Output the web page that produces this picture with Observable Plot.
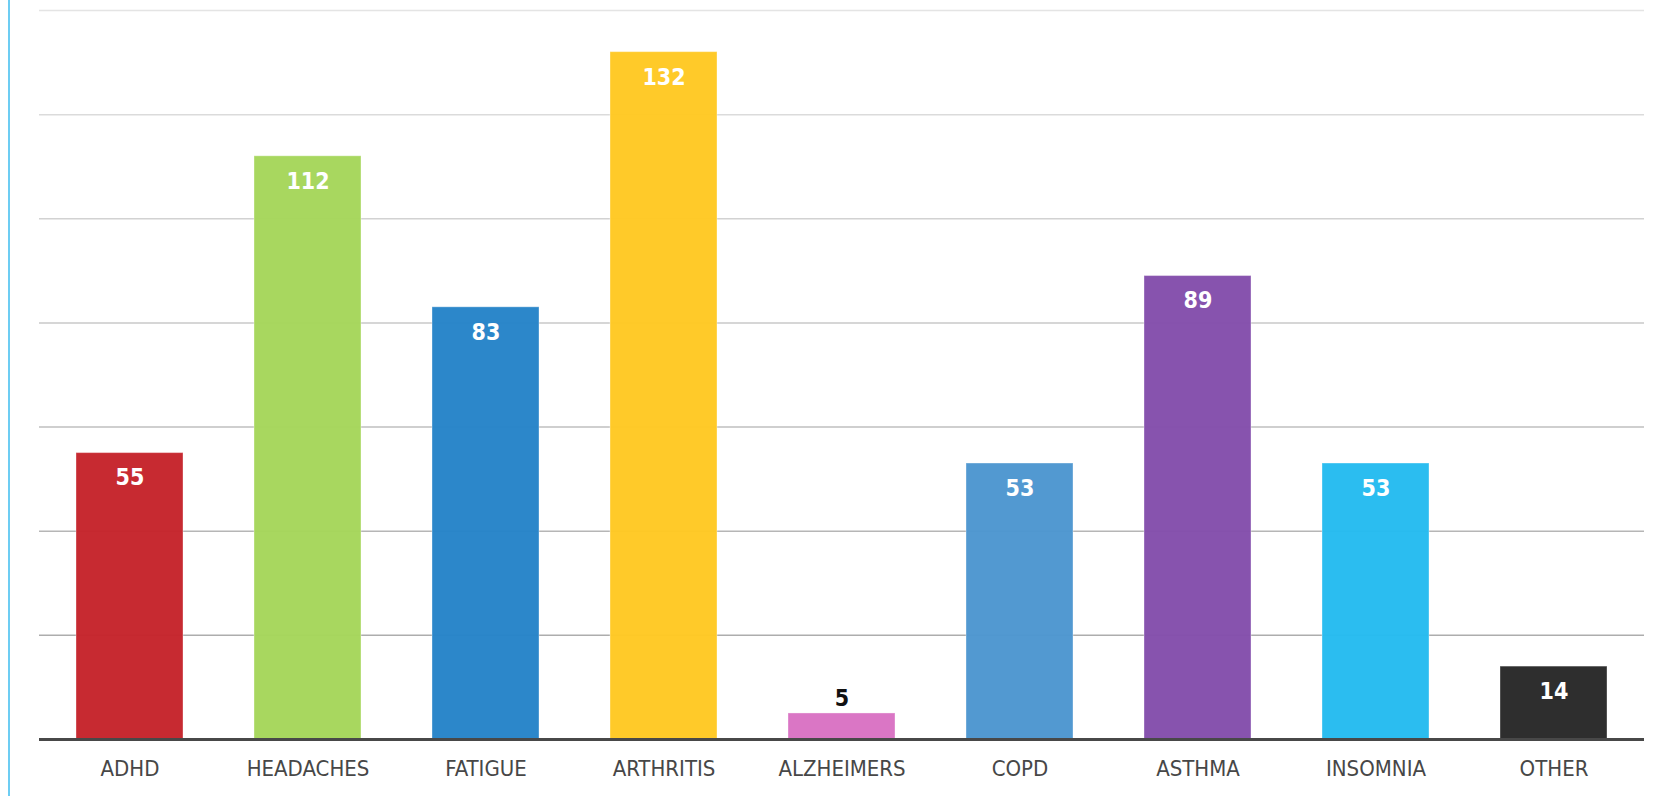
<!DOCTYPE html>
<html>
<head>
<meta charset="utf-8">
<script src="https://cdn.jsdelivr.net/npm/d3@7"></script>
<script src="https://cdn.jsdelivr.net/npm/@observablehq/plot@0.6"></script>
<style>
  html, body { margin: 0; padding: 0; background: #fff; }
  #wrap { position: relative; width: 1655px; height: 796px; }
  #edge { position: absolute; left: 8px; top: 0; width: 2px; height: 796px; background: #6dcdf3; }
</style>
</head>
<body>
<div id="wrap"><div id="edge"></div></div>
<script>
// Conditions and the number of responses for each
const categories = ["ADHD", "HEADACHES", "FATIGUE", "ARTHRITIS", "ALZHEIMERS", "COPD", "ASTHMA", "INSOMNIA", "OTHER"];
const counts = [55, 112, 83, 132, 5, 53, 89, 53, 14];
const barColors = ["#c5232a", "#a5d65a", "#2583c8", "#ffc822", "#d972c3", "#4c96d0", "#834dab", "#24bbef", "#272727"];
const yTicks = [20, 40, 60, 80, 100, 120, 140];

const rows = categories.map((name, i) => ({name, count: counts[i], color: barColors[i]}));

// grid lines fade from mid grey at the bottom to pale grey at the top
const gridShade = d3.interpolateRgb("#a4a4a4", "#e4e4e4");

const chart = Plot.plot({
  width: 1655,
  height: 796,
  marginLeft: 39,
  marginRight: 11,
  marginTop: 10,
  marginBottom: 57,
  style: {fontFamily: "'DejaVu Sans Condensed', 'DejaVu Sans', sans-serif", color: "#474747", background: "transparent"},
  x: {domain: categories, paddingInner: 0.4, paddingOuter: 0.2, label: null},
  y: {domain: [0, 140], axis: null},
  marks: [
    Plot.ruleY(yTicks, {stroke: d => gridShade(d / 140), strokeWidth: 1.5}),
    Plot.barY(rows, {
      x: "name", y: "count", fill: "color", fillOpacity: 0.97,
      stroke: "#ffffff", strokeOpacity: 0.35, strokeWidth: 1
    }),
    Plot.ruleY([0], {stroke: "#484848", strokeWidth: 3}),
    // value labels: inside the bar near its top, or above it when the bar is short
    Plot.text(rows.filter(d => d.count >= 10), {
      x: "name", y: "count", text: d => String(d.count), dy: 25,
      fill: "#ffffff", fontSize: 23, fontWeight: "bold", letterSpacing: "1px"
    }),
    Plot.text(rows.filter(d => d.count < 10), {
      x: "name", y: "count", text: d => String(d.count), dy: -15,
      fill: "#111111", fontSize: 23, fontWeight: "bold"
    }),
    Plot.axisX({tickSize: 0, tickPadding: 21, fontSize: 22, label: null})
  ]
});

chart.style.position = "absolute";
chart.style.left = "0";
chart.style.top = "0";
document.getElementById("wrap").appendChild(chart);
</script>
</body>
</html>
